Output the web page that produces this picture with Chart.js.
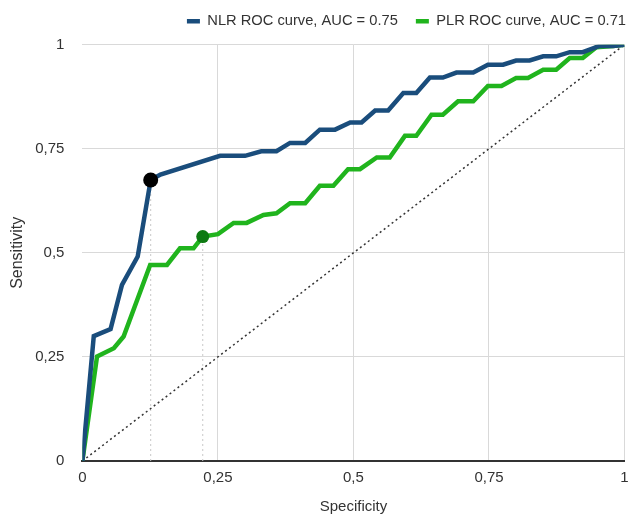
<!DOCTYPE html>
<html>
<head>
<meta charset="utf-8">
<script src="https://cdn.jsdelivr.net/npm/chart.js@4"></script>
<style>
  body { margin: 0; background: #fff; }
</style>
</head>
<body>
<canvas id="rocChart" width="632" height="516"></canvas>
<script>
// --- DATA ---

// NLR ROC curve (x = 1 - specificity, y = sensitivity)
const nlrX = [0, 0.021, 0.052, 0.073, 0.102, 0.126, 0.144, 0.254, 0.300, 0.330, 0.358, 0.383, 0.411, 0.438, 0.466, 0.494, 0.515, 0.540, 0.564, 0.592, 0.616, 0.641, 0.665, 0.690, 0.721, 0.748, 0.776, 0.800, 0.825, 0.850, 0.874, 0.899, 0.923, 0.954, 0.979, 1];
const nlrY = [0, 0.300, 0.317, 0.423, 0.491, 0.675, 0.688, 0.733, 0.733, 0.744, 0.744, 0.764, 0.764, 0.796, 0.796, 0.813, 0.813, 0.842, 0.842, 0.884, 0.884, 0.921, 0.921, 0.933, 0.933, 0.952, 0.952, 0.962, 0.962, 0.972, 0.972, 0.982, 0.982, 0.997, 0.997, 1];

// PLR ROC curve
const plrX = [0, 0.027, 0.058, 0.076, 0.125, 0.156, 0.180, 0.205, 0.222, 0.250, 0.279, 0.303, 0.334, 0.358, 0.383, 0.411, 0.438, 0.463, 0.490, 0.512, 0.543, 0.567, 0.595, 0.616, 0.644, 0.665, 0.693, 0.721, 0.748, 0.773, 0.800, 0.822, 0.850, 0.874, 0.899, 0.923, 0.948, 0.979, 1];
const plrY = [0, 0.251, 0.271, 0.299, 0.471, 0.471, 0.511, 0.511, 0.539, 0.545, 0.572, 0.572, 0.591, 0.595, 0.619, 0.619, 0.661, 0.661, 0.701, 0.701, 0.729, 0.729, 0.781, 0.781, 0.832, 0.832, 0.864, 0.864, 0.901, 0.901, 0.920, 0.920, 0.940, 0.940, 0.968, 0.968, 0.994, 0.997, 1];

// optimal cut-off points
const nlrCut = [0.126, 0.675];
const plrCut = [0.222, 0.539];

const seriesLabels = ['NLR ROC curve, AUC = 0.75', 'PLR ROC curve, AUC = 0.71'];
const tickValues = [0, 0.25, 0.5, 0.75, 1];

// --- HELPERS ---

function toPoints(xs, ys) {
    return xs.map((x, i) => ({ x: x, y: ys[i] }));
}

function formatTick(v) {
    return String(v).replace('.', ',');
}

const NLR_BLUE = '#1a4d7c';
const PLR_GREEN = '#20b41d';
const FONT = 'Liberation Sans';

// add some room under the legend
const legendGap = {
    id: 'legendGap',
    beforeInit(chart) {
        const fit = chart.legend.fit;
        chart.legend.fit = function () {
            fit.bind(chart.legend)();
            this.height += 6;
        };
    }
};

// --- CHART ---

const ctx = document.getElementById('rocChart').getContext('2d');
new Chart(ctx, {
    type: 'scatter',
    data: {
        datasets: [
            {
                label: seriesLabels[0],
                data: toPoints(nlrX, nlrY),
                showLine: true,
                borderColor: NLR_BLUE,
                backgroundColor: NLR_BLUE,
                borderWidth: 4.5,
                pointRadius: 0,
                order: 1
            },
            {
                label: seriesLabels[1],
                data: toPoints(plrX, plrY),
                showLine: true,
                borderColor: PLR_GREEN,
                backgroundColor: PLR_GREEN,
                borderWidth: 4.5,
                pointRadius: 0,
                order: 2
            },
            {
                label: '',
                data: [{ x: 0, y: 0 }, { x: 1, y: 1 }],
                showLine: true,
                borderColor: '#333',
                borderWidth: 1.5,
                borderDash: [2, 3],
                pointRadius: 0,
                order: 3
            },
            {
                label: '',
                data: [{ x: nlrCut[0], y: 0 }, { x: nlrCut[0], y: nlrCut[1] }],
                showLine: true,
                borderColor: '#c8c8c8',
                borderWidth: 1,
                borderDash: [2, 3],
                pointRadius: 0,
                order: 4
            },
            {
                label: '',
                data: [{ x: plrCut[0], y: 0 }, { x: plrCut[0], y: plrCut[1] }],
                showLine: true,
                borderColor: '#c8c8c8',
                borderWidth: 1,
                borderDash: [2, 3],
                pointRadius: 0,
                order: 4
            },
            {
                label: '',
                data: [{ x: nlrCut[0], y: nlrCut[1] }],
                pointRadius: 7.5,
                pointBackgroundColor: '#000',
                pointBorderWidth: 0,
                order: 0
            },
            {
                label: '',
                data: [{ x: plrCut[0], y: plrCut[1] }],
                pointRadius: 6.5,
                pointBackgroundColor: '#0d7a12',
                pointBorderWidth: 0,
                order: 0
            }
        ]
    },
    options: {
        responsive: false,
        animation: false,
        layout: { padding: { left: 8, right: -12, top: -4, bottom: 0 } },
        plugins: {
            tooltip: { enabled: false },
            legend: {
                position: 'top',
                align: 'end',
                labels: {
                    filter: item => item.text !== '',
                    usePointStyle: true,
                    pointStyle: 'line',
                    pointStyleWidth: 13,
                    padding: 18,
                    color: '#333',
                    font: { family: FONT, size: 14.7 }
                }
            }
        },
        scales: {
            x: {
                type: 'linear',
                min: 0,
                max: 1,
                afterBuildTicks: axis => { axis.ticks = tickValues.map(v => ({ value: v })); },
                afterFit: axis => { axis.paddingRight = 7; },
                ticks: {
                    callback: v => formatTick(v),
                    color: '#333',
                    padding: 8,
                    font: { family: FONT, size: 15 }
                },
                grid: {
                    color: ctx => ctx.tick && ctx.tick.value === 0 ? 'rgba(0,0,0,0)' : '#d9d9d9',
                    drawTicks: false
                },
                border: { display: true, color: '#333', width: 2 },
                title: {
                    display: true,
                    text: 'Specificity',
                    color: '#333',
                    padding: { top: 3, bottom: 0 },
                    font: { family: FONT, size: 15 }
                }
            },
            y: {
                type: 'linear',
                min: 0,
                max: 1,
                afterBuildTicks: axis => { axis.ticks = tickValues.map(v => ({ value: v })); },
                ticks: {
                    callback: v => formatTick(v),
                    color: '#333',
                    padding: 18,
                    font: { family: FONT, size: 15 }
                },
                grid: {
                    color: ctx => ctx.tick && ctx.tick.value === 0 ? 'rgba(0,0,0,0)' : '#d9d9d9',
                    drawTicks: false
                },
                border: { display: false },
                title: {
                    display: true,
                    text: 'Sensitivity',
                    color: '#333',
                    padding: { top: 0, bottom: -10 },
                    font: { family: FONT, size: 16 }
                }
            }
        }
    },
    plugins: [legendGap]
});
</script>
</body>
</html>
